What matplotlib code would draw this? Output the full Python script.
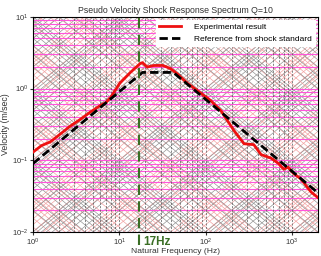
import matplotlib.pyplot as plt
import numpy as np

plt.rcParams['font.family'] = ['Liberation Sans', 'DejaVu Sans']

# Experimental SRS (pseudo velocity)
freq_exp = [1, 1.25, 1.58, 2, 2.7, 3.5, 4.6, 6, 7, 7.9, 10, 13.4, 17.5, 18.5, 21, 25,
            32, 39, 47, 62, 72, 114, 150, 212, 277, 360, 437, 570, 690, 800, 900,
            1030, 1260, 1660, 2000]
vel_exp = [0.13, 0.16, 0.18, 0.225, 0.3, 0.37, 0.47, 0.58, 0.64, 0.75, 1.17, 1.68,
           2.25, 2.3, 2.0, 2.1, 2.1, 1.9, 1.6, 1.17, 1.03, 0.68, 0.49, 0.26, 0.17,
           0.165, 0.12, 0.107, 0.091, 0.075, 0.08, 0.066, 0.055, 0.036, 0.03]

# Reference from shock standard
freq_ref = [1, 18.5, 42, 2000]
vel_ref = [0.09, 1.68, 1.68, 0.035]

f_mark = 17

fig = plt.figure(figsize=(3.21, 2.56), dpi=100)
ax = fig.add_axes([0.103, 0.094, 0.888, 0.84])

# tripartite background grid (displacement / acceleration lines)
ff = np.logspace(-2, 5, 50)
for n in range(-6, 6):
    for k in range(1, 10):
        c = k * 10.0 ** n
        ax.plot(ff, c * ff, color='#8c8c8c', lw=0.45, zorder=1)
        ax.plot(ff, c / ff, color='#8c8c8c', lw=0.45, zorder=1)
        ax.plot(ff, 2.54 * c * ff, color='#f29a9a', lw=0.45, zorder=1)
        ax.plot(ff, 3.9 * c / ff, color='#f29a9a', lw=0.45, zorder=1)

for n in range(-2, 1):
    for k in range(1, 10):
        ax.axhline(k * 10.0 ** n, color='#ff55dd', lw=0.8, zorder=1)
for n in range(0, 4):
    for k in range(1, 10):
        ax.axvline(k * 10.0 ** n, color='#555555', lw=0.5, ls=(0, (3, 2)), zorder=1)

ax.plot(freq_exp, vel_exp, color='#ee1111', lw=2, label='Experimental result', zorder=3)
ax.plot(freq_ref, vel_ref, color='black', lw=2, ls=(0, (3, 1.5)),
        label='Reference from shock standard', zorder=4)

ax.set_xscale('log')
ax.set_yscale('log')
ax.set_xlim(1, 2000)
ax.set_ylim(0.01, 10)
ax.minorticks_off()
ax.tick_params(labelsize=5.5, length=2, pad=1.5, colors='#333333')

ax.plot([f_mark, f_mark], [0.0065, 10], color='#3a6e25', lw=1.5, ls=(0, (5, 3)),
        clip_on=False, zorder=5)
ax.text(19, 0.0072, '17Hz', color='#3a6e25', fontsize=8.5, fontweight='bold',
        va='center', ha='left')

ax.set_title('Pseudo Velocity Shock Response Spectrum Q=10', fontsize=6.3,
             color='#333333', pad=3)
ax.set_xlabel('Natural Frequency (Hz)', fontsize=6.1, color='#333333', labelpad=0)
ax.set_ylabel('Velocity (m/sec)', fontsize=6.3, color='#333333', labelpad=1)

leg = ax.legend(loc='upper right', fontsize=6, frameon=True, fancybox=False,
                framealpha=1, edgecolor='white', handlelength=2.6,
                handletextpad=1.5, borderaxespad=0.4, labelspacing=0.4)
leg.set_zorder(6)

fig.savefig('out.png', dpi=100)
